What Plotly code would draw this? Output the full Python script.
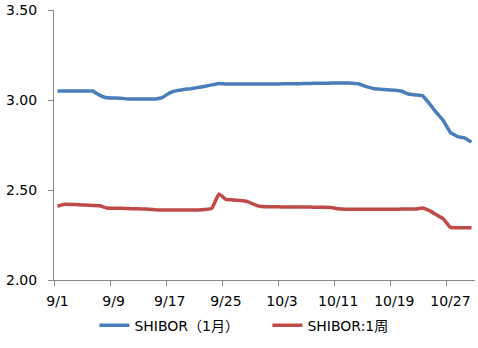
import plotly.graph_objects as go
import pandas as pd

dates = pd.date_range("2015-09-01", "2015-10-30", freq="D")

shibor_1m = [
    3.050, 3.050, 3.050, 3.050, 3.050, 3.050, 3.027, 3.012, 3.011, 3.010,
    3.005, 3.005, 3.005, 3.005, 3.006, 3.015, 3.040, 3.052, 3.058, 3.063,
    3.069, 3.076, 3.084, 3.092, 3.089, 3.089, 3.089, 3.089, 3.089, 3.089,
    3.089, 3.089, 3.090, 3.090, 3.090, 3.091, 3.092, 3.093, 3.093, 3.094,
    3.095, 3.095, 3.093, 3.089, 3.074, 3.064, 3.060, 3.057, 3.054, 3.050,
    3.033, 3.028, 3.024, 2.980, 2.930, 2.885, 2.820, 2.797, 2.790, 2.766,
]

shibor_1w = [
    2.410, 2.421, 2.420, 2.418, 2.416, 2.414, 2.412, 2.400, 2.399, 2.398,
    2.397, 2.396, 2.395, 2.393, 2.390, 2.389, 2.389, 2.389, 2.389, 2.389,
    2.389, 2.392, 2.398, 2.478, 2.448, 2.445, 2.442, 2.437, 2.420, 2.408,
    2.407, 2.407, 2.406, 2.406, 2.405, 2.405, 2.405, 2.404, 2.404, 2.403,
    2.396, 2.393, 2.393, 2.393, 2.393, 2.393, 2.393, 2.393, 2.393, 2.394,
    2.394, 2.394, 2.400, 2.385, 2.362, 2.339, 2.292, 2.290, 2.290, 2.290,
]

tick_dates = ["2015-09-01", "2015-09-09", "2015-09-17", "2015-09-25",
              "2015-10-03", "2015-10-11", "2015-10-19", "2015-10-27"]
tick_labels = ["9/1", "9/9", "9/17", "9/25", "10/3", "10/11", "10/19", "10/27"]

names = ["SHIBOR（1月）", "SHIBOR:1周"]
colors = ["#4A7EBB", "#BE4B48"]

FONT = "DejaVu Sans, Noto Sans CJK SC"

fig = go.Figure()
for name, vals, col in zip(names, [shibor_1m, shibor_1w], colors):
    fig.add_trace(go.Scatter(
        x=dates, y=vals, mode="lines", name=name,
        line=dict(color=col, width=3.5, shape="spline", smoothing=0.3),
    ))

fig.update_layout(
    width=478, height=348,
    margin=dict(l=54, r=3, t=10, b=68),
    paper_bgcolor="white", plot_bgcolor="white",
    font=dict(family=FONT, size=14, color="black"),
    showlegend=True,
    legend=dict(
        orientation="h", x=0.096, xanchor="left", y=-0.11, yanchor="top",
        font=dict(family=FONT, size=14), itemwidth=30,
        entrywidth=128, entrywidthmode="pixels",
        bgcolor="rgba(0,0,0,0)",
    ),
)

fig.update_xaxes(
    type="date",
    range=["2015-08-31 12:00", "2015-10-30 12:00"],
    tickvals=pd.to_datetime(tick_dates), ticktext=tick_labels,
    ticks="", showgrid=False, zeroline=False,
    showline=True, linecolor="#868686", linewidth=1,
    ticklabelstandoff=8,
    minor=dict(ticks="outside", ticklen=5, tickcolor="#868686",
               tick0="2015-08-31 12:00", dtick=8 * 86400000, showgrid=False),
)
fig.update_yaxes(
    range=[2.0, 3.5], dtick=0.5, tickformat=".2f",
    ticks="outside", ticklen=5, tickcolor="#868686",
    showgrid=False, zeroline=False,
    showline=True, linecolor="#868686", linewidth=1,
    ticklabelstandoff=8,
)

fig.write_html("out.html")
